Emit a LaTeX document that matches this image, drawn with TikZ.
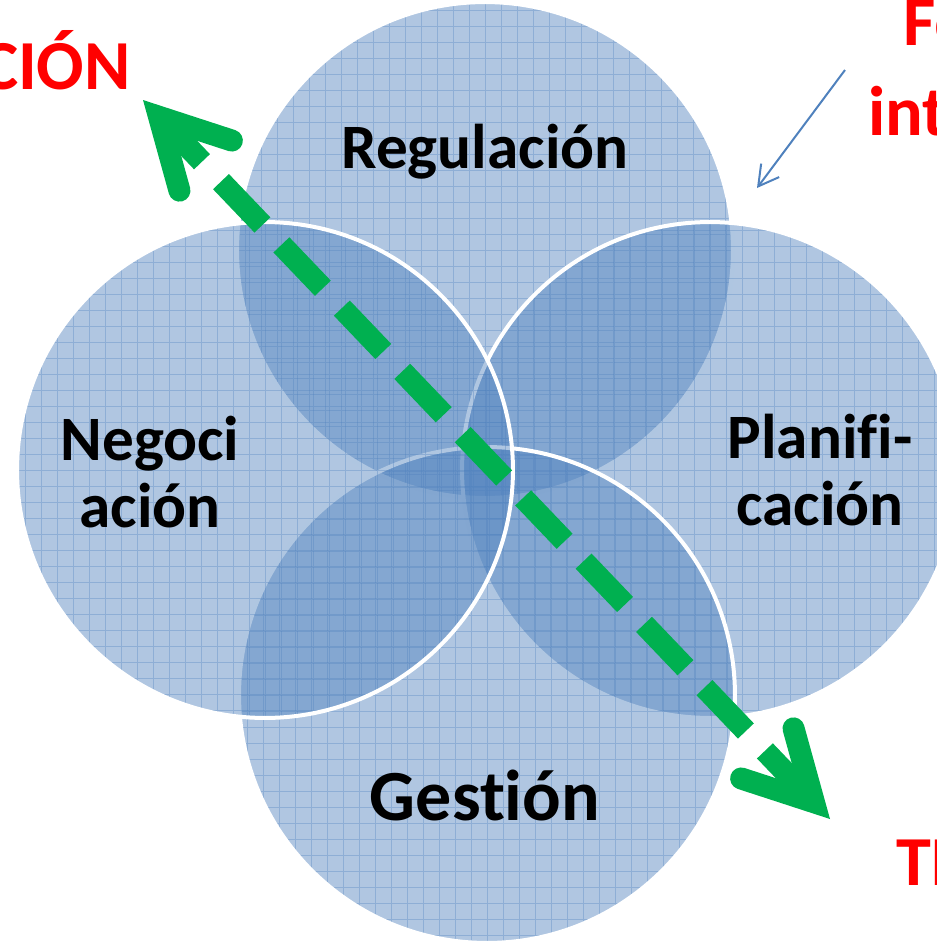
\documentclass[tikz,border=0pt]{standalone}
\usepackage{fontspec}
\setmainfont[Ligatures={NoCommon,NoContextual},Contextuals=NoAlternate]{Carlito}
\usetikzlibrary{arrows.meta}
\definecolor{vennblue}{HTML}{4F81BD}
\definecolor{ejegreen}{HTML}{00B050}
\definecolor{rojo}{HTML}{FF0000}
\begin{document}
\begin{tikzpicture}[x=0.02cm,y=-0.02cm,
	venn/.style={circle,minimum size=9.92cm,inner sep=0pt,fill=vennblue,fill opacity=.45,
		draw=white,draw opacity=1,line width=0.08cm,
		path picture={\draw[vennblue,opacity=.35,line width=.5pt,step=.32cm]
			(path picture bounding box.south west) grid (path picture bounding box.north east);}},
	lbl/.style={font=\bfseries\fontsize{36}{38.5}\selectfont,align=center},
	rojolbl/.style={text=rojo,font=\bfseries\fontsize{40}{48}\selectfont},
	eje/.style={ejegreen,line width=0.44cm,dash pattern=on 1.2cm off 0.55cm,
		{Straight Barb[length=1.35cm,width=1.45cm,line cap=round]}-{Straight Barb[length=1.35cm,width=1.45cm,line cap=round]}},
	flecha/.style={vennblue,line width=0.04cm,-{Straight Barb[length=0.4cm,width=0.45cm]}}]
		\useasboundingbox (0,0) rectangle (937,941);
		\clip (0,0) rectangle (937,941);

		\node[venn] (reg)  at (485,250) {};
		\node[venn] (plan) at (710,470) {};
		\node[venn] (gest) at (487,695) {};
		\node[venn] (neg)  at (265,470) {};

		\node[lbl,anchor=base] (reglbl)  at (485,168) {Regulación};
		\node[lbl] (neglbl)  at (150,472) {Negoci\\ación};
		\node[lbl] (planlbl) at (820,470) {Planifi-\\cación};
		\node[lbl,anchor=base,font=\bfseries\fontsize{41}{44}\selectfont] (gestlbl) at (485,820) {Gestión};

		\node[rojolbl,anchor=base east] (cion) at (137,89)  {CIÓN};
		\node[rojolbl,anchor=base west] (fo)   at (897,45)  {Fo};
		\node[rojolbl,anchor=base west] (int)  at (862,135) {int};
		\node[rojolbl,anchor=base west] (ti)   at (890,885) {TI};

		\coordinate (ctip) at (143,100);
		\coordinate (ttip) at (830,819);
		\coordinate (fostart) at (845,70);
		\coordinate (foend) at (757,188);

		\draw[eje] (ttip) -- (ctip);
		\draw[flecha] (fostart) -- (foend);
	\end{tikzpicture}
\end{document}
